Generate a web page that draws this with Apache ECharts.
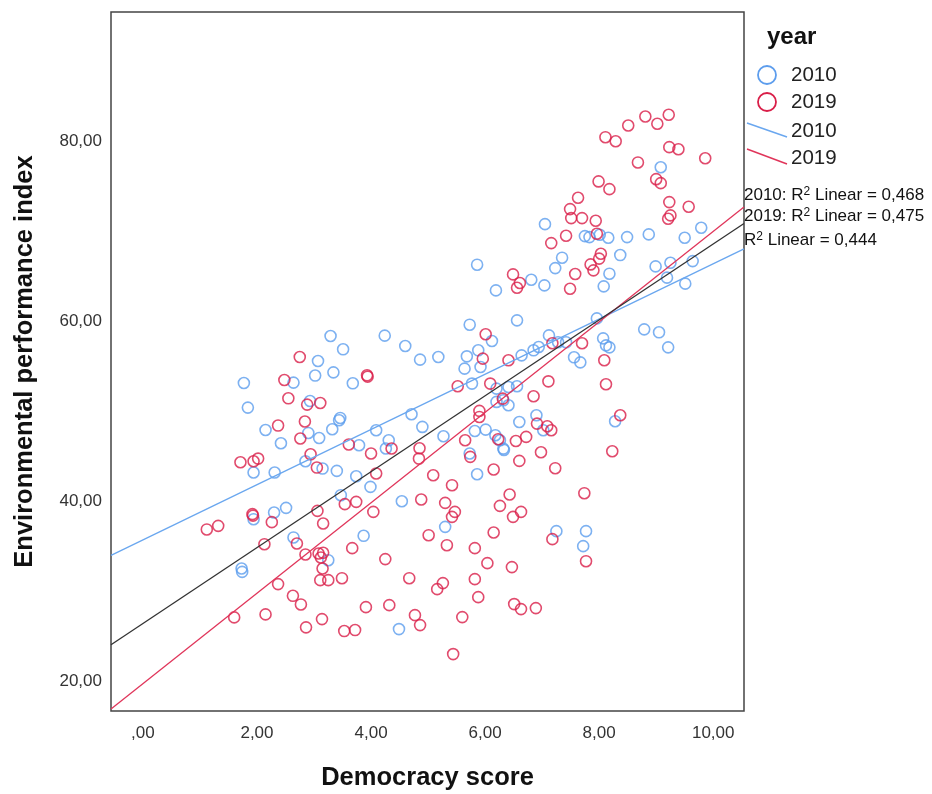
<!DOCTYPE html>
<html><head><meta charset="utf-8">
<script src="https://cdn.jsdelivr.net/npm/echarts@6/dist/echarts.min.js"></script>
<style>html,body{margin:0;padding:0;background:#fff}#c{width:932px;height:794px}</style>
</head><body><div id="c"></div>
<script>
// ---- data ----
var points2010 = [
[9.08,77.14],[7.05,70.81],[7.75,69.48],[7.83,69.37],[8.01,69.63],[8.16,69.30],[8.49,69.37],[8.87,69.67],[9.50,69.30],[9.79,70.41],
[5.86,66.30],[7.35,67.08],[7.23,65.92],[8.37,67.37],[8.18,65.30],[6.81,64.63],[7.04,64.00],[8.08,63.89],[8.99,66.11],[9.25,66.52],
[9.64,66.70],[9.19,64.86],[9.51,64.19],[6.19,63.44],
[3.29,58.37],[3.51,56.89],[4.24,58.41],[4.60,57.26],[4.86,55.74],[5.18,56.03],[3.07,55.59],[3.02,53.97],[3.34,54.33],[3.68,53.11],
[2.64,53.19],[1.77,53.14],[1.84,50.41],[2.93,51.14],[3.46,49.26],[3.44,49.00],[3.32,48.00],[2.15,47.92],[2.90,47.59],[3.09,47.03],
[2.42,46.44],[4.71,49.67],[4.90,48.26],[4.09,47.89],[4.31,46.78],[4.26,45.86],[3.79,46.22],[5.27,47.22],[2.85,44.44],[1.94,43.19],
[2.31,43.19],[3.15,43.63],[3.40,43.37],[3.74,42.78],[5.64,54.74],
[1.94,38.00],[2.30,38.74],[2.51,39.26],[2.64,35.97],[1.73,32.52],[1.74,32.14],[3.25,33.44],
[5.73,59.63],[6.56,60.11],[5.68,56.11],[5.88,56.78],[6.12,57.81],[6.64,56.22],[6.85,56.78],[6.94,57.15],[5.92,54.92],[5.77,53.08],
[6.20,52.52],[6.41,52.70],[6.56,52.78],[6.20,51.04],[6.32,51.22],[6.41,50.67],[6.60,48.81],[5.82,47.81],[6.01,47.96],[6.18,47.33],
[6.26,46.78],[6.32,45.85],[6.33,45.70],[5.73,45.30],[5.86,43.00],[3.87,36.15],[3.99,41.59],[3.47,40.67],[4.54,40.00],[6.90,49.56],[5.30,37.15],
[4.49,25.78],
[7.12,58.44],[7.28,57.67],[7.42,57.67],[7.56,56.00],[7.67,55.44],[8.07,58.11],[8.12,57.33],[8.18,57.11],[7.96,60.33],[8.79,59.11],
[9.05,58.78],[9.21,57.11],[8.28,48.89],[7.02,47.89],[7.77,36.67],[7.72,35.00],[7.25,36.67]
];
var points2019 = [
[8.11,80.48],[8.29,80.03],[8.51,81.78],[8.81,82.78],[9.02,81.97],[9.22,82.97],[9.23,79.37],[9.39,79.14],[9.86,78.14],[8.68,77.67],
[9.00,75.81],[9.08,75.37],[7.99,75.56],[8.18,74.70],[7.63,73.74],[7.49,72.48],[7.51,71.48],[7.70,71.48],[7.94,71.19],[7.96,69.74],
[9.23,73.26],[9.57,72.74],[9.25,71.78],[9.21,71.41],[7.42,69.52],[7.16,68.70],[8.03,67.52],[8.00,66.97],[7.85,66.33],[7.90,65.67],
[7.58,65.26],[6.49,65.22],[6.61,64.26],[6.56,63.74],[7.49,63.63],
[2.75,56.03],[2.48,53.48],[3.93,54.00],[3.94,53.85],[2.55,51.44],[2.88,50.74],[3.11,50.92],[2.84,48.86],[2.37,48.41],[2.76,46.97],
[3.61,46.30],[2.94,45.22],[4.00,45.30],[4.36,45.86],[4.85,45.89],[4.84,44.74],[1.71,44.33],[1.94,44.44],[2.02,44.74],[3.05,43.74],
[4.09,43.08],[5.09,42.89],[5.52,52.78],
[1.12,36.86],[1.32,37.26],[1.92,38.56],[1.93,38.40],[2.26,37.67],[3.06,38.92],[3.16,37.52],[2.13,35.22],[2.70,35.30],[2.85,34.08],
[3.08,34.19],[3.16,34.26],[3.12,33.74],[3.15,32.52],[3.11,31.22],[3.25,31.22],[2.37,30.78],[2.63,29.48],[2.77,28.52],[1.60,27.08],
[2.15,27.41],[3.14,26.89],[2.86,25.97],
[6.01,58.56],[5.96,55.85],[6.41,55.67],[6.09,53.08],[6.31,51.41],[6.85,51.67],[5.90,50.04],[5.90,49.37],[6.91,48.63],[6.23,46.89],
[6.54,46.70],[6.72,47.15],[5.65,46.78],[5.74,44.93],[6.15,43.52],[6.60,44.48],[5.42,41.78],[4.88,40.19],[5.30,39.81],[5.47,38.81],
[5.42,38.26],[6.26,39.48],[6.43,40.74],[6.49,38.26],[6.63,38.81],[6.15,36.52],[5.01,36.22],[3.54,39.67],[3.74,39.93],[4.04,38.81],
[3.49,31.44],[3.67,34.78],[4.25,33.56],[4.67,31.44],[4.32,28.44],[3.91,28.22],[3.72,25.67],[3.53,25.56],[4.77,27.33],[5.16,30.22],
[5.26,30.89],[5.33,35.11],[5.82,34.78],[5.82,31.33],[5.88,29.33],[6.04,33.11],[4.86,26.22],[5.44,23.00],[5.60,27.11],[6.51,28.56],
[6.63,28.00],[6.89,28.11],[6.47,32.67],
[7.18,57.56],[7.70,57.56],[8.09,55.67],[8.12,53.00],[8.37,49.56],[8.23,45.56],[7.11,53.33],[7.09,48.33],[7.16,47.89],[6.98,45.44],
[7.23,43.67],[7.74,40.89],[7.18,35.78],[7.77,33.33]
];
// fit lines: 2010, 2019, total
var fitNames = ['2010', '2019', 'Total'];
var fitIntercepts = [35.7, 19.7, 26.4];
var fitSlopes = [3.07, 5.03, 4.22];
var r2Labels = ['2010: R{s|2} Linear = 0,468', '2019: R{s|2} Linear = 0,475', 'R{s|2} Linear = 0,444'];
var legendYears = ['2010', '2019'];
var xTicks = [0, 2, 4, 6, 8, 10];
var yTicks = [20, 40, 60, 80];

// ---- chart ----
var xMin = -0.56, xMax = 10.54, yMin = 16.67, yMax = 94.4;
var BLUE = '#5d9ded', RED = '#d91e48', BLUE_L = '#6aa7ef', RED_L = '#e0355a', BLACK = '#333333';
var fmt = function (v) { var s = v.toFixed(2).replace('.', ','); return s.charAt(0) === '0' ? s.slice(1) : s; };
function fitLine(i) { return [[xMin, fitIntercepts[i] + fitSlopes[i] * xMin], [xMax, fitIntercepts[i] + fitSlopes[i] * xMax]]; }
var chart = echarts.init(document.getElementById('c'), null, { renderer: 'canvas' });
var FF = 'Liberation Sans, Arial, sans-serif';
var option = {
  animation: false,
  textStyle: { fontFamily: FF },
  grid: { left: 111, right: 188, top: 12, bottom: 83, outerBoundsMode: 'none', containLabel: false,
    show: true, borderColor: '#444', borderWidth: 1.5, backgroundColor: '#fff' },
  xAxis: {
    type: 'value', min: xMin, max: xMax,
    axisLine: { show: false }, axisTick: { show: false }, splitLine: { show: false },
    axisLabel: { customValues: xTicks, formatter: fmt, fontSize: 17, color: '#333', margin: 14, fontFamily: FF },
    name: 'Democracy score', nameLocation: 'middle', nameGap: 54,
    nameTextStyle: { fontSize: 25.5, fontWeight: 'bold', color: '#111', fontFamily: FF }
  },
  yAxis: {
    type: 'value', min: yMin, max: yMax,
    axisLine: { show: false }, axisTick: { show: false }, splitLine: { show: false },
    axisLabel: { customValues: yTicks, formatter: fmt, fontSize: 17, color: '#333', margin: 9, fontFamily: FF },
    name: 'Environmental performance index', nameLocation: 'middle', nameGap: 73,
    nameTextStyle: { fontSize: 25.5, fontWeight: 'bold', color: '#111', fontFamily: FF }
  },
  series: [
    { name: '2010', type: 'scatter', data: points2010, symbol: 'circle', symbolSize: 11,
      itemStyle: { color: 'rgba(0,0,0,0)', borderColor: BLUE, borderWidth: 1.6 }, z: 2 },
    { name: '2019', type: 'scatter', data: points2019, symbol: 'circle', symbolSize: 11,
      itemStyle: { color: 'rgba(0,0,0,0)', borderColor: RED, borderWidth: 1.6 }, z: 2 },
    { name: 'fit2010', type: 'line', data: fitLine(0), showSymbol: false, lineStyle: { color: BLUE_L, width: 1.3 }, z: 3 },
    { name: 'fit2019', type: 'line', data: fitLine(1), showSymbol: false, lineStyle: { color: RED_L, width: 1.3 }, z: 3 },
    { name: 'fitTotal', type: 'line', data: fitLine(2), showSymbol: false, lineStyle: { color: BLACK, width: 1.3 }, z: 3 }
  ],
  graphic: [
    { type: 'text', left: 767, top: 25, style: { text: 'year', font: 'bold 24px Liberation Sans, Arial', fill: '#111' } },
    { type: 'circle', shape: { cx: 767, cy: 75, r: 9 }, style: { fill: 'none', stroke: BLUE, lineWidth: 1.8 } },
    { type: 'text', x: 791, y: 75, style: { text: legendYears[0], font: '20.5px Liberation Sans, Arial', fill: '#222', verticalAlign: 'middle' } },
    { type: 'circle', shape: { cx: 767, cy: 102, r: 9 }, style: { fill: 'none', stroke: RED, lineWidth: 1.8 } },
    { type: 'text', x: 791, y: 102, style: { text: legendYears[1], font: '20.5px Liberation Sans, Arial', fill: '#222', verticalAlign: 'middle' } },
    { type: 'line', shape: { x1: 747, y1: 123, x2: 787, y2: 137 }, style: { stroke: BLUE_L, lineWidth: 1.5 } },
    { type: 'text', x: 791, y: 131, style: { text: legendYears[0], font: '20.5px Liberation Sans, Arial', fill: '#222', verticalAlign: 'middle' } },
    { type: 'line', shape: { x1: 747, y1: 149, x2: 787, y2: 164 }, style: { stroke: RED_L, lineWidth: 1.5 } },
    { type: 'text', x: 791, y: 158, style: { text: legendYears[1], font: '20.5px Liberation Sans, Arial', fill: '#222', verticalAlign: 'middle' } }
  ].concat(r2Labels.map(function (t, i) {
    return { type: 'text', x: 744, y: [195, 216, 240][i], style: { text: t, font: '17px Liberation Sans, Arial', fill: '#111', verticalAlign: 'middle',
      rich: { s: { fontSize: 12, verticalAlign: 'top', padding: [0, 0, 7, 0] } } } };
  }))
};
chart.setOption(option);
</script></body></html>
